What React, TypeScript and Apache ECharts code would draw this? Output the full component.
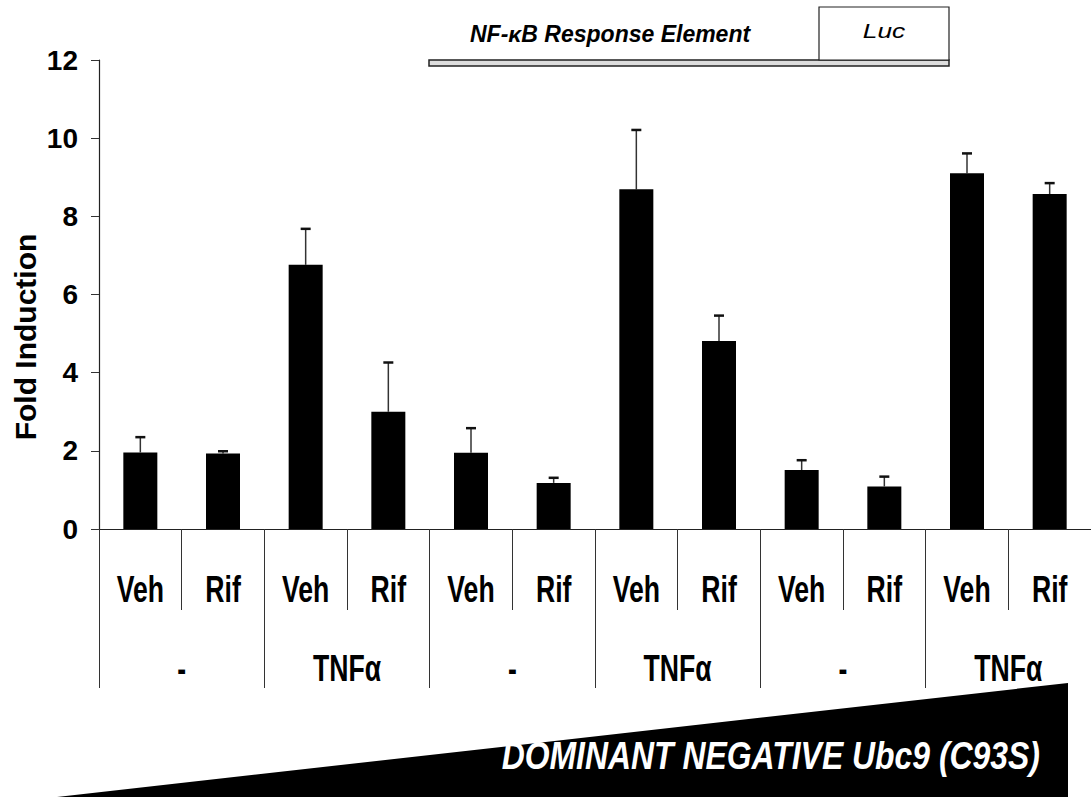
import React, { useEffect, useRef } from "react";
import * as echarts from "echarts";

const treatments = ["Veh", "Rif", "Veh", "Rif", "Veh", "Rif", "Veh", "Rif", "Veh", "Rif", "Veh", "Rif"];
const stimuli = ["-", "TNFα", "-", "TNFα", "-", "TNFα"];
const foldInduction = [1.96, 1.93, 6.76, 3.0, 1.95, 1.18, 8.69, 4.81, 1.51, 1.09, 9.1, 8.57];
const errorSEM = [0.39, 0.06, 0.92, 1.26, 0.63, 0.13, 1.52, 0.65, 0.25, 0.25, 0.51, 0.28];
const yTicks = { min: 0, max: 12, interval: 2 };

const SANS = "'Liberation Sans', Arial, sans-serif";

export default function App() {
  const ref = useRef<HTMLDivElement>(null);
  useEffect(() => {
    if (!ref.current) return;
    const chart = echarts.init(ref.current, null, { renderer: "svg" });
    const errData = foldInduction.map((v, i) => [i, v, errorSEM[i]]);
    chart.setOption({
      animation: false,
      backgroundColor: "#fff",
      grid: { left: 99, top: 60, right: -5, bottom: 268, containLabel: false },
      xAxis: [
        {
          type: "category",
          data: treatments,
          position: "bottom",
          boundaryGap: true,
          axisLine: { show: true, lineStyle: { color: "#222", width: 1.2 } },
          axisTick: { show: true, interval: 0, length: 81, lineStyle: { color: "#333", width: 1 } },
          axisLabel: { show: false },
        },
        {
          type: "category",
          data: stimuli,
          position: "bottom",
          boundaryGap: true,
          axisLine: { show: false },
          axisTick: { show: true, interval: 0, length: 159, lineStyle: { color: "#333", width: 1 } },
          axisLabel: { show: false },
        },
      ],
      yAxis: {
        type: "value",
        min: yTicks.min,
        max: yTicks.max,
        interval: yTicks.interval,
        splitLine: { show: false },
        axisLine: { show: true, lineStyle: { color: "#222", width: 1.2 } },
        axisTick: { show: true, inside: false, length: 8, lineStyle: { color: "#333" } },
        axisLabel: {
          margin: 21,
          color: "#000",
          fontFamily: SANS,
          fontWeight: "bold",
          fontSize: 28,
        },
      },
      series: [
        {
          type: "bar",
          xAxisIndex: 0,
          data: foldInduction,
          barWidth: 34,
          itemStyle: { color: "#000" },
        },
        {
          type: "custom",
          xAxisIndex: 0,
          data: errData,
          z: 1,
          renderItem: (params: any, api: any) => {
            const i = api.value(0);
            const v = api.value(1);
            const e = api.value(2);
            const base = api.coord([i, v]);
            const top = api.coord([i, v + e]);
            const hw = 5;
            return {
              type: "group",
              children: [
                {
                  type: "line",
                  shape: { x1: base[0], y1: base[1], x2: top[0], y2: top[1] },
                  style: { stroke: "#333", lineWidth: 1.5 },
                },
                {
                  type: "line",
                  shape: { x1: top[0] - hw, y1: top[1], x2: top[0] + hw, y2: top[1] },
                  style: { stroke: "#111", lineWidth: 2.5 },
                },
              ],
            };
          },
        },
      ],
    });

    const condensedLabel = (text: string, x: number, y: number) => ({
      type: "text",
      x,
      y,
      scaleX: 0.72,
      style: {
        text,
        fontFamily: SANS,
        fontWeight: "bold",
        fontSize: 37,
        fill: "#000",
        align: "center",
        verticalAlign: "middle",
      },
    });

    const treatmentLabels = treatments.map((t, i) =>
      condensedLabel(t, chart.convertToPixel({ xAxisIndex: 0 }, i) as number, 589)
    );
    const stimulusLabels = stimuli.map((s, j) =>
      condensedLabel(s, chart.convertToPixel({ xAxisIndex: 1 }, j) as number, 668)
    );

    chart.setOption({
      graphic: [
        ...treatmentLabels,
        ...stimulusLabels,
        {
          type: "text",
          x: 25,
          y: 337,
          rotation: Math.PI / 2,
          style: {
            text: "Fold Induction",
            fontFamily: SANS,
            fontWeight: "bold",
            fontSize: 30,
            fill: "#000",
            align: "center",
            verticalAlign: "middle",
          },
        },
        {
          type: "rect",
          shape: { x: 429, y: 60, width: 520, height: 6 },
          style: { fill: "#ddd", stroke: "#222", lineWidth: 1.5 },
        },
        {
          type: "rect",
          shape: { x: 819, y: 7, width: 130, height: 53 },
          style: { fill: "#fff", stroke: "#222", lineWidth: 1.2 },
        },
        {
          type: "text",
          x: 470,
          y: 34,
          style: {
            text: "NF-κB Response Element",
            fontFamily: SANS,
            fontWeight: "bold",
            fontStyle: "italic",
            fontSize: 23,
            fill: "#000",
            align: "left",
            verticalAlign: "middle",
          },
        },
        {
          type: "text",
          x: 884,
          y: 30,
          scaleX: 1.25,
          style: {
            text: "Luc",
            fontFamily: SANS,
            fontStyle: "italic",
            fontSize: 21,
            fill: "#000",
            align: "center",
            verticalAlign: "middle",
          },
        },
        {
          type: "polygon",
          shape: { points: [[57, 797], [1068, 683], [1068, 800], [57, 800]] },
          style: { fill: "#000" },
        },
        {
          type: "text",
          x: 1040,
          y: 755,
          scaleX: 0.84,
          style: {
            text: "DOMINANT NEGATIVE Ubc9 (C93S)",
            fontFamily: SANS,
            fontWeight: "bold",
            fontStyle: "italic",
            fontSize: 38,
            fill: "#fff",
            align: "right",
            verticalAlign: "middle",
          },
        },
      ],
    });
    return () => chart.dispose();
  }, []);
  return (
    <div
      ref={ref}
      style={{ position: "absolute", left: 0, top: 0, width: 1091, height: 797, background: "#fff" }}
    />
  );
}
